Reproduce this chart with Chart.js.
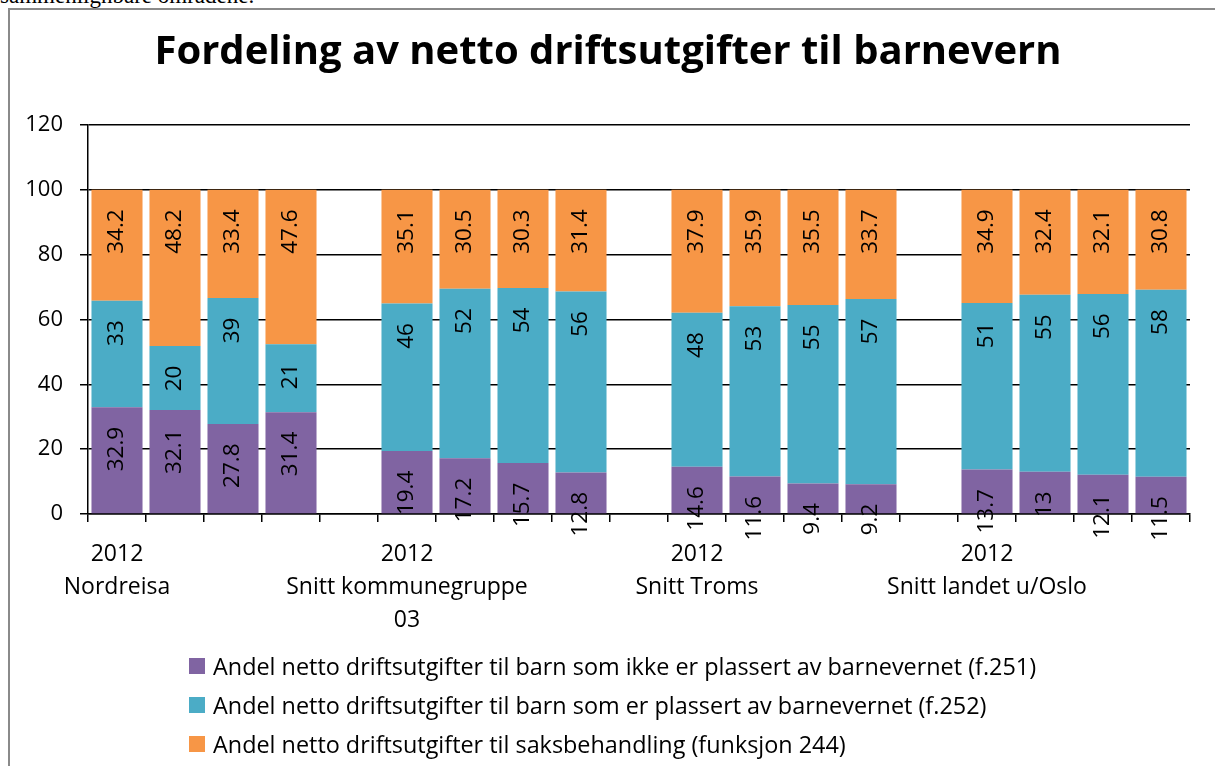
<!DOCTYPE html>
<html>
<head>
<meta charset="utf-8">
<script src="https://cdn.jsdelivr.net/npm/chart.js@4/dist/chart.umd.min.js"></script>
<style>
  html, body { margin: 0; padding: 0; background: #fff; overflow: hidden; }
  body { width: 1215px; height: 766px; position: relative; }
  #pagetext { position: absolute; left: 0; top: -16px; font: 23px/23px "Liberation Serif", serif; color: #000; white-space: nowrap; }
  #frame { position: absolute; left: 8px; top: 8px; width: 1300px; height: 900px; border: 2px solid #8a8a8a; box-sizing: border-box; }
  #c { position: absolute; left: 0; top: 0; }
  #legend { position: absolute; left: 189px; top: 646px; font: 23.4px "Open Sans", sans-serif; color: #000; }
  #legend .row { height: 39.4px; display: flex; align-items: center; white-space: nowrap; }
  #legend .box { width: 16px; height: 16px; margin-right: 8px; flex: none; }
</style>
</head>
<body>
<div id="pagetext">sammenlignbare områdene.</div>
<div id="frame"></div>
<canvas id="c" width="1215" height="766"></canvas>
<div id="legend"></div>
<script>
// ---- data ----
const chartTitle = "Fordeling av netto driftsutgifter til barnevern";
const categories = [
  ["2012", "Nordreisa"], "", "", "", "",
  ["2012", "Snitt kommunegruppe", "03"], "", "", "", "",
  ["2012", "Snitt Troms"], "", "", "", "",
  ["2012", "Snitt landet u/Oslo"], "", "", ""
];
const seriesNames = [
  "Andel netto driftsutgifter til barn som ikke er plassert av barnevernet (f.251)",
  "Andel netto driftsutgifter til barn som er plassert av barnevernet (f.252)",
  "Andel netto driftsutgifter til saksbehandling (funksjon 244)"
];
const ikkePlassert = [32.9, 32.1, 27.8, 31.4, null, 19.4, 17.2, 15.7, 12.8, null, 14.6, 11.6, 9.4, 9.2, null, 13.7, 13, 12.1, 11.5];
const plassert     = [32.9, 19.7, 38.8, 21.0, null, 45.5, 52.3, 54.0, 55.8, null, 47.5, 52.5, 55.1, 57.1, null, 51.4, 54.6, 55.8, 57.7];
const saksbehandling = [34.2, 48.2, 33.4, 47.6, null, 35.1, 30.5, 30.3, 31.4, null, 37.9, 35.9, 35.5, 33.7, null, 34.9, 32.4, 32.1, 30.8];
const labelDecimals = [null, 0, null]; // null = show as given
const yTicks = { min: 0, max: 120, step: 20 };
const colors = ["#8064A2", "#4BACC6", "#F79646"];

const FONT = '"Open Sans"';

// ---- value labels plugin ----
const valueLabels = {
  id: 'valueLabels',
  afterDraw(chart) {
    const c = chart.ctx;
    c.save();
    c.font = '22.5px ' + FONT;
    c.fillStyle = '#000';
    c.textAlign = 'right';
    c.textBaseline = 'middle';
    chart.data.datasets.forEach((ds, di) => {
      const meta = chart.getDatasetMeta(di);
      meta.data.forEach((bar, i) => {
        const v = ds.data[i];
        if (v == null) return;
        const dec = labelDecimals[di];
        const txt = dec == null ? String(v) : v.toFixed(dec);
        const top = Math.min(bar.y, bar.base);
        c.save();
        c.translate(bar.x, top + 19.5);
        c.rotate(-Math.PI / 2);
        c.fillText(txt, 0, 0);
        c.restore();
      });
    });
    c.restore();
  }
};

const seriesData = [ikkePlassert, plassert, saksbehandling];
const chart = new Chart(document.getElementById('c'), {
  type: 'bar',
  data: {
    labels: categories,
    datasets: seriesData.map((d, i) => ({
      label: seriesNames[i],
      data: d,
      backgroundColor: colors[i],
      borderWidth: 0,
      categoryPercentage: 1,
      barPercentage: 0.88
    }))
  },
  options: {
    responsive: false,
    animation: false,
    layout: { padding: { left: 26, right: 25, top: 0, bottom: 0 } },
    plugins: {
      legend: { display: false },
      tooltip: { enabled: false },
      title: {
        display: true,
        text: chartTitle,
        color: '#000',
        font: { family: FONT, size: 40, weight: 'bold', lineHeight: 1.2 },
        padding: { top: 29, bottom: 48 }
      }
    },
    scales: {
      x: {
        stacked: true,
        grid: { display: true, drawOnChartArea: false, drawTicks: true, tickLength: 8, color: '#000', lineWidth: 1.5, offset: true },
        border: { display: true, color: '#000', width: 1.5 },
        ticks: { autoSkip: false, maxRotation: 0, minRotation: 0, padding: 16, color: '#000',
                 font: { family: FONT, size: 23, lineHeight: 1.44 } },
        afterFit(s) { s.height = 252; }
      },
      y: {
        stacked: true,
        min: yTicks.min, max: yTicks.max,
        ticks: { stepSize: yTicks.step, padding: 17, color: '#000', font: { family: FONT, size: 22 } },
        grid: { color: '#000', lineWidth: 1.5, tickLength: 8 },
        border: { display: true, color: '#000', width: 1.5 },
        afterFit(s) { s.width = 62; }
      }
    }
  },
  plugins: [valueLabels]
});

// ---- legend ----
const lg = document.getElementById('legend');
seriesNames.forEach((n, i) => {
  const row = document.createElement('div');
  row.className = 'row';
  const b = document.createElement('span');
  b.className = 'box';
  b.style.background = colors[i];
  const t = document.createElement('span');
  t.textContent = n;
  row.appendChild(b); row.appendChild(t);
  lg.appendChild(row);
});
</script>
</body>
</html>
